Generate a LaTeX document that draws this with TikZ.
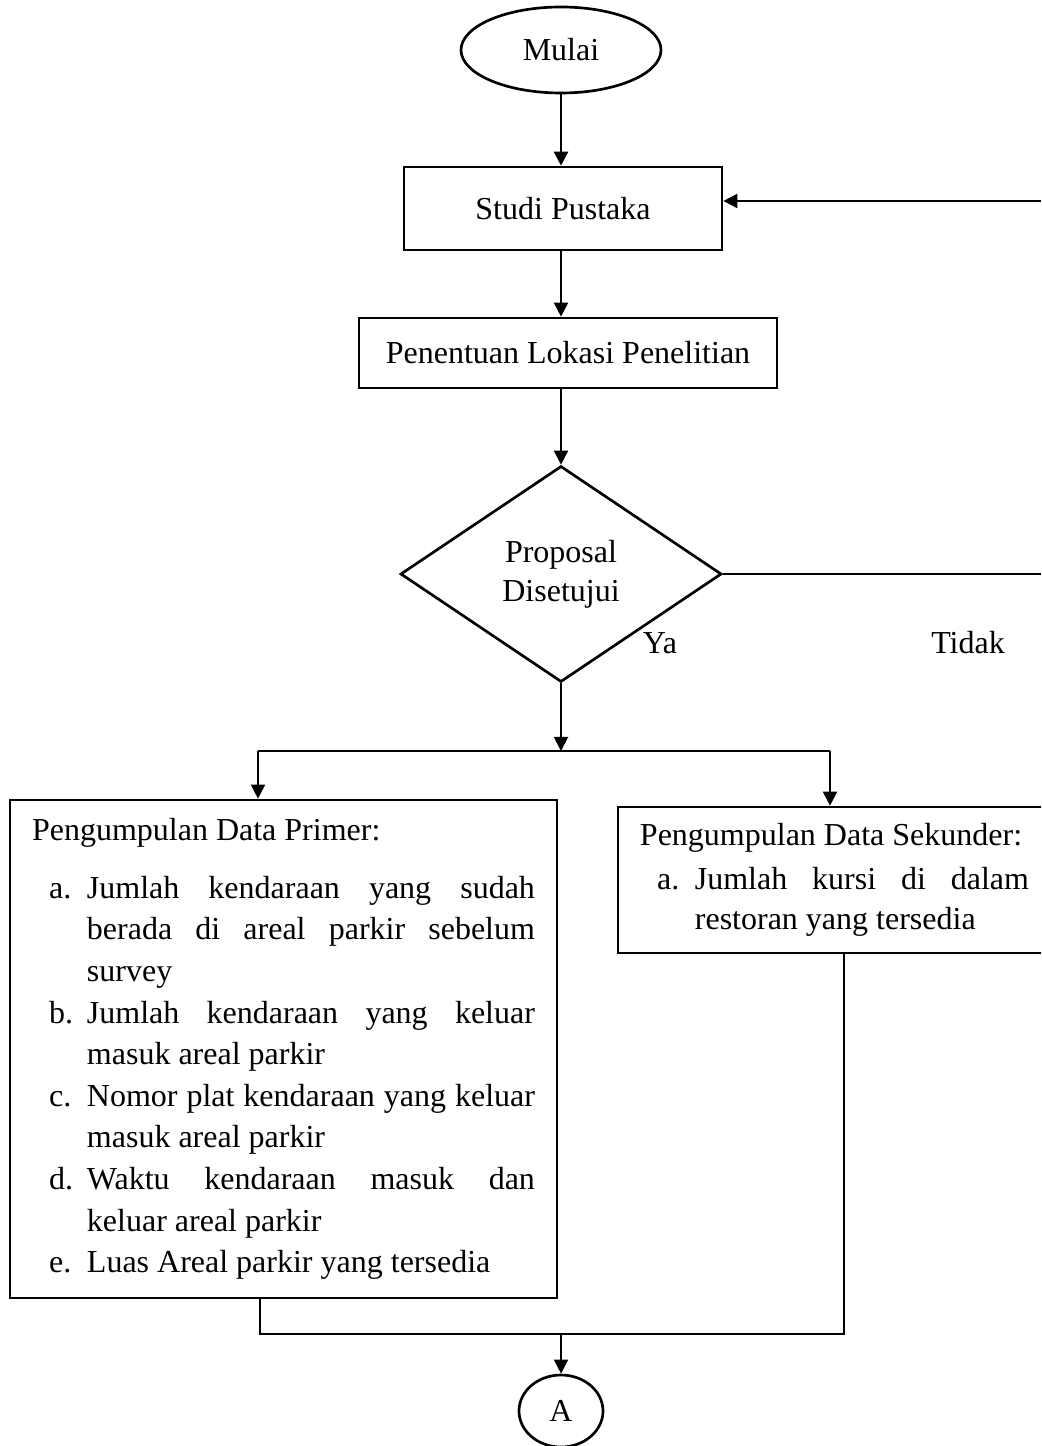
\documentclass[tikz,border=0pt]{standalone}
\usepackage{fontspec}
\setmainfont{Liberation Serif}
\usetikzlibrary{shapes.geometric,arrows.meta}
\hyphenpenalty=10000
\exhyphenpenalty=10000
\newcommand{\entry}[2]{\par\hangindent=20.6pt\hangafter=1\noindent\hspace*{6.4pt}\makebox[14.2pt][l]{#1}#2}

\begin{document}
\begin{tikzpicture}[x=0.375pt,y=-0.375pt,every node/.style={font=\fontsize{12}{15.6}\selectfont}]
            \tikzstyle{flow}=[draw=black, line width=1pt, rectangle, inner sep=0pt]
            \tikzstyle{link}=[black, line width=0.7pt, -{Triangle[length=5.3pt,width=5.3pt]}]
            \useasboundingbox (0,0) rectangle (1041,1446);
            \clip (0,0) rectangle (1041,1446);
            \node [draw, ellipse, line width=1pt, minimum width=75pt, minimum height=32.25pt] (mulai) at (561,50) {Mulai};
            \node [flow, minimum width=119.25pt, minimum height=31.1pt] (studi) at (563,208.5) {Studi Pustaka};
            \node [flow, minimum width=156.75pt, minimum height=26.25pt] (lokasi) at (568,353) {Penentuan Lokasi Penelitian};
            \node [draw, diamond, line width=1pt, minimum width=120.4pt, minimum height=81pt, inner sep=0pt, align=center, font=\fontsize{12}{14.6}\selectfont] (setuju) at (561,574) {Proposal\\Disetujui};
            \node (ya) at (660,643) {Ya};
            \node (tidak) at (968,643) {Tidak};
            \node [flow, text width=188.6pt, inner xsep=8.25pt, minimum height=186.75pt, align=justify] (primer) at (283.5,1049) {\noindent Pengumpulan Data Primer:\par\vskip6pt
                \entry{a.}{Jumlah kendaraan yang sudah\linebreak berada di areal parkir sebelum\linebreak survey}
                \entry{b.}{Jumlah kendaraan yang keluar\linebreak masuk areal parkir}
                \entry{c.}{Nomor plat kendaraan yang keluar masuk areal parkir}
                \entry{d.}{Waktu kendaraan masuk dan\linebreak keluar areal parkir}
                \entry{e.}{Luas Areal parkir yang tersedia}\par};
            \node [flow, text width=145.9pt, inner xsep=8.25pt, minimum height=54.75pt, align=justify, font=\fontsize{12}{15}\selectfont] (sekunder) at (834.5,880) {\noindent Pengumpulan Data Sekunder:\par\vskip1.5pt
                \entry{a.}{Jumlah kursi di dalam\linebreak restoran yang tersedia}\par};
            \node [draw, ellipse, line width=1pt, minimum width=31.5pt, minimum height=27pt, inner sep=0pt] (A) at (561,1411) {A};
            \coordinate (balik) at (1041,201);
            \coordinate (pisah) at (561,751);
            \coordinate (pisahkiri) at (258,751);
            \coordinate (pisahkanan) at (830,751);
            \coordinate (gabung) at (561,1334);
            \coordinate (gabungkiri) at (260,1334);
            \coordinate (gabungkanan) at (844,1334);
            \draw [link, line width=1pt] (mulai.south) -- (mulai.south |- studi.north);
            \draw [link] (mulai.south |- studi.south) -- (mulai.south |- lokasi.north);
            \draw [link] (mulai.south |- lokasi.south) -- (setuju.north);
            \draw [link] (balik) -- (balik -| studi.east);
            \draw [black, line width=0.7pt] (setuju.east) -- (setuju.east -| balik);
            \draw [link] (setuju.south) -- (pisah);
            \draw [black, line width=0.7pt] (pisahkiri) -- (pisahkanan);
            \draw [link] (pisahkiri) -- (pisahkiri |- primer.north);
            \draw [link] (pisahkanan) -- (pisahkanan |- sekunder.north);
            \draw [black, line width=0.7pt] (gabungkiri |- primer.south) -- (gabungkiri) -- (gabungkanan) -- (gabungkanan |- sekunder.south);
            \draw [link] (gabung) -- (A.north);
\end{tikzpicture}
\end{document}
